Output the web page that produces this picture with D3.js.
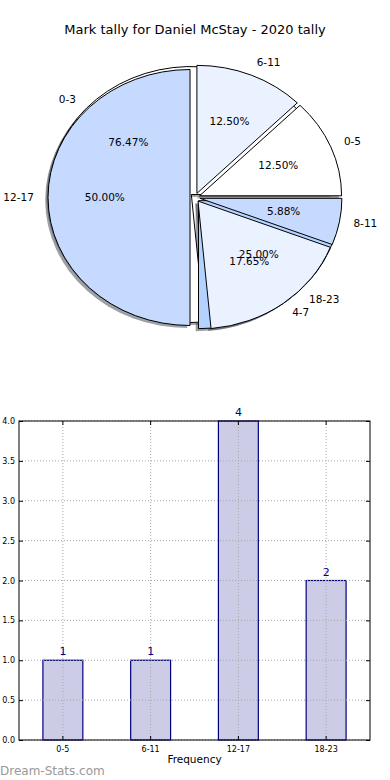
<!DOCTYPE html>
<html><head><meta charset="utf-8">
<script src="https://cdn.jsdelivr.net/npm/d3@7"></script>
<style>body{margin:0;background:#fff}svg{display:block;font-family:"DejaVu Sans",sans-serif}</style>
</head><body><svg id="c" width="390" height="780"></svg>
<script>
const titleText = "Mark tally for Daniel McStay - 2020 tally";
const categories = ["0-5", "6-11", "12-17", "18-23"];
const counts = [1, 1, 4, 2];
const overlayCategories = ["0-3", "4-7", "8-11"];
const overlayCounts = [13, 3, 1];
const yTickValues = [0, 0.5, 1, 1.5, 2, 2.5, 3, 3.5, 4];
const xLabelText = "Frequency";
const watermarkText = "Dream-Stats.com";

const mainColors = ["#ffffff", "#eaf1ff", "#c6d9ff", "#b4d2ff"];
const overColors = ["#ffffff", "#eaf1ff", "#c6d9ff"];

const svg = d3.select("#c");
svg.append("rect").attr("width", 390).attr("height", 780).attr("fill", "#fff");
svg.append("text").attr("x", 195).attr("y", 30).attr("text-anchor", "middle")
  .attr("dominant-baseline", "middle").attr("font-size", 13).text(titleText);

// ---------- pie ----------
const cx = 195, cy = 197.5, rx = 142, ry = 128, ex = 0.035;
function wedges(cats, vals, colors) {
  const arcs = d3.pie().sort(null).startAngle(0).endAngle(2 * Math.PI)(vals);
  const total = d3.sum(vals);
  return arcs.map((a, i) => {
    const tm = (a.startAngle + a.endAngle) / 2;
    return {cat: cats[i], pct: vals[i] / total * 100, t1: a.startAngle, t2: a.endAngle, tm,
      color: colors[i], ox: cx + ex * rx * Math.cos(tm), oy: cy - ex * ry * Math.sin(tm)};
  });
}
const mainW = wedges(categories, counts, mainColors);
const overW = wedges(overlayCategories, overlayCounts, overColors);
const drawOrder = [overW[0], ...mainW, overW[1], overW[2]];

const arcGen = d3.arc().innerRadius(0).outerRadius(1)
  .startAngle(d => Math.PI / 2 - d.t2).endAngle(d => Math.PI / 2 - d.t1);

const pieG = svg.append("g");
pieG.selectAll("path.shadow").data(drawOrder).join("path").attr("class", "shadow")
  .attr("d", arcGen)
  .attr("transform", d => `translate(${d.ox - 0.02 * rx},${d.oy + 0.02 * ry}) scale(${rx},${ry})`)
  .attr("fill", d => { const c = d3.rgb(d.color); return d3.rgb(c.r * 0.3, c.g * 0.3, c.b * 0.3); })
  .attr("fill-opacity", 0.5).attr("stroke", "none");
pieG.selectAll("path.wedge").data(drawOrder).join("path").attr("class", "wedge")
  .attr("d", arcGen)
  .attr("transform", d => `translate(${d.ox},${d.oy}) scale(${rx},${ry})`)
  .attr("fill", d => d.color).attr("stroke", "#000").attr("stroke-width", 1)
  .attr("vector-effect", "non-scaling-stroke").attr("stroke-linejoin", "round");

const allW = [...mainW, ...overW];
const fmtPct = d3.format(".2f");
pieG.selectAll("text.lab").data(allW).join("text").attr("class", "lab")
  .attr("x", d => d.ox + 1.1 * rx * Math.cos(d.tm))
  .attr("y", d => d.oy - 1.1 * ry * Math.sin(d.tm))
  .attr("text-anchor", d => Math.cos(d.tm) > 0 ? "start" : "end")
  .attr("dominant-baseline", "middle").attr("font-size", 10.5).text(d => d.cat);
pieG.selectAll("text.pct").data(allW).join("text").attr("class", "pct")
  .attr("x", d => d.ox + 0.6 * rx * Math.cos(d.tm))
  .attr("y", d => d.oy - 0.6 * ry * Math.sin(d.tm))
  .attr("text-anchor", "middle").attr("dominant-baseline", "middle")
  .attr("font-size", 10.5).text(d => fmtPct(d.pct) + "%");

// ---------- bar chart ----------
const L = 19, R = 370, T = 421, B = 740;
const x = d3.scaleBand().domain(categories).range([L, R]).paddingInner(0.545).paddingOuter(0.2725);
const y = d3.scaleLinear().domain([0, 4]).range([B, T]);
const barG = svg.append("g");
const bars = categories.map((c, i) => ({c, v: counts[i]}));
barG.selectAll("rect.bar").data(bars).join("rect").attr("class", "bar")
  .attr("x", d => x(d.c)).attr("width", x.bandwidth())
  .attr("y", d => y(d.v)).attr("height", d => y(0) - y(d.v))
  .attr("fill", "#cccce6").attr("stroke", "#000080").attr("stroke-width", 1.2);

// grid (on top of bars)
const gridG = barG.append("g").attr("stroke", "#a8a8a8").attr("stroke-dasharray", "1,2").attr("stroke-width", 1);
gridG.selectAll("line.h").data(yTickValues).join("line").attr("class", "h")
  .attr("x1", L).attr("x2", R).attr("y1", d => y(d)).attr("y2", d => y(d));
gridG.selectAll("line.v").data(categories).join("line").attr("class", "v")
  .attr("x1", d => x(d) + x.bandwidth() / 2).attr("x2", d => x(d) + x.bandwidth() / 2)
  .attr("y1", T).attr("y2", B);

// axes
const axL = barG.append("g").attr("transform", `translate(${L},0)`)
  .call(d3.axisLeft(y).tickValues(yTickValues).tickFormat(d3.format(".1f")).tickSizeInner(-4).tickSizeOuter(0).tickPadding(4));
const axR = barG.append("g").attr("transform", `translate(${R},0)`)
  .call(d3.axisRight(y).tickValues(yTickValues).tickFormat("").tickSizeInner(-4).tickSizeOuter(0));
const axB = barG.append("g").attr("transform", `translate(0,${B})`)
  .call(d3.axisBottom(x).tickSizeInner(-4).tickSizeOuter(0).tickPadding(6));
const axT = barG.append("g").attr("transform", `translate(0,${T})`)
  .call(d3.axisTop(x).tickFormat("").tickSizeInner(-4).tickSizeOuter(0));
[axL, axR, axB, axT].forEach(a => {
  a.selectAll("text").attr("font-size", 8).attr("font-family", "DejaVu Sans").attr("fill", "#000");
  a.select(".domain").remove();
  a.selectAll("line").attr("stroke", "#000");
});
barG.append("rect").attr("x", L).attr("y", T).attr("width", R - L).attr("height", B - T)
  .attr("fill", "none").attr("stroke", "#000").attr("stroke-width", 1);

// value labels
barG.selectAll("text.val").data(bars).join("text").attr("class", "val")
  .attr("x", d => x(d.c) + x.bandwidth() / 2).attr("y", d => y(d.v) - 5)
  .attr("text-anchor", "middle").attr("font-size", 11).attr("fill", "#00008b").text(d => d.v);

svg.append("text").attr("x", (L + R) / 2).attr("y", 760).attr("text-anchor", "middle")
  .attr("dominant-baseline", "middle").attr("font-size", 10.5).text(xLabelText);
svg.append("text").attr("x", 0).attr("y", 775).attr("font-size", 12).attr("fill", "#999").text(watermarkText);
</script></body></html>
